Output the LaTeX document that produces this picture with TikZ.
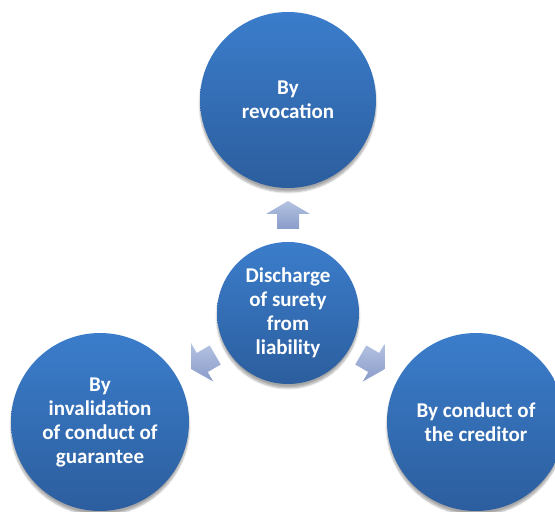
\documentclass[tikz,border=0pt]{standalone}
\usepackage{fontspec}
\setmainfont{Carlito}
\usetikzlibrary{shadows.blur}
\definecolor{bubbletop}{HTML}{3B7DCB}
\definecolor{bubblebot}{HTML}{2C5E9E}
\definecolor{arrowtop}{HTML}{B3C2E2}
\definecolor{arrowbot}{HTML}{8A9CC9}
\tikzset{
  bubble/.style={circle, minimum size=#1, inner sep=0pt, align=center,
    top color=bubbletop, bottom color=bubblebot, text=white,
    font=\fontsize{21}{24}\selectfont\bfseries,
    blur shadow={shadow xshift=0pt, shadow yshift=-4pt, shadow blur steps=8, shadow opacity=35}},
  blockarrow/.style={top color=arrowtop, bottom color=arrowbot, draw=none}
}
\begin{document}
\begin{tikzpicture}[x=1pt,y=1pt]
  \useasboundingbox (0,0) rectangle (555,512);
  \clip (0,0) rectangle (555,512);
  % four bubbles
  \node[bubble=176pt] (top) at (288,412) {By\\revocation};
  \node[bubble=142pt] (hub) at (288,199) {Discharge\\of surety\\from\\liability};
  \node[bubble=178pt] (left) at (100,90) {By\\invalidation\\of conduct of\\guarantee};
  \node[bubble=178pt] (right) at (476,90) {By conduct of\\the creditor};
  % block arrows radiating from the hub
  \foreach \ang in {90,210,330}{
    \begin{scope}[shift={(hub.center)}, rotate=\ang]
      \path[blockarrow] (84,-11) -- (99,-11) -- (99,-22) -- (112,0)
        -- (99,22) -- (99,11) -- (84,11) -- cycle;
    \end{scope}
  }
\end{tikzpicture}
\end{document}
